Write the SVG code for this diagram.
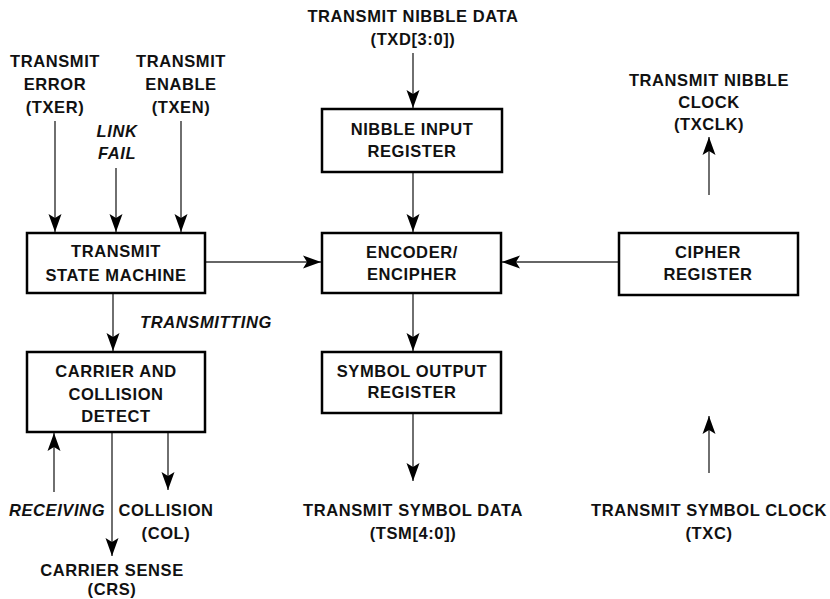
<svg xmlns="http://www.w3.org/2000/svg" width="830" height="599" viewBox="0 0 830 599">
<defs>
<marker id="ah" markerUnits="userSpaceOnUse" viewBox="0 0 18 14" markerWidth="18" markerHeight="14" refX="18" refY="7" orient="auto" overflow="visible">
<path d="M0,0.5 L18,7 L0,13.5 L4,7 Z" fill="#000"/>
</marker>
<style>
.box{fill:#fff;stroke:#000;stroke-width:2.5}
.t{font-family:"Liberation Sans",Arial,sans-serif;font-weight:bold;font-size:16.5px;letter-spacing:0.6px;text-anchor:middle;fill:#111}
.i{font-style:italic}
.c{fill:none;stroke:#333;stroke-width:1.4;marker-end:url(#ah)}
</style>
</defs>
<rect width="830" height="599" fill="#fff"/>

<g id="connectors">
<line class="c" x1="55" y1="121" x2="55" y2="232"/>
<line class="c" x1="116" y1="168" x2="116" y2="232"/>
<line class="c" x1="181" y1="121" x2="181" y2="232"/>
<line class="c" x1="413" y1="53" x2="413" y2="108"/>
<line class="c" x1="413" y1="172" x2="413" y2="232"/>
<line class="c" x1="205" y1="262" x2="321" y2="262"/>
<line class="c" x1="619" y1="262" x2="502" y2="262"/>
<line class="c" x1="709" y1="195" x2="709" y2="137"/>
<line class="c" x1="113" y1="293" x2="113" y2="351"/>
<line class="c" x1="413" y1="293" x2="413" y2="351"/>
<line class="c" x1="413" y1="413" x2="413" y2="481"/>
<line class="c" x1="54" y1="492" x2="54" y2="433"/>
<line class="c" x1="112" y1="432" x2="112" y2="556"/>
<line class="c" x1="168" y1="432" x2="168" y2="490"/>
<line class="c" x1="709" y1="473" x2="709" y2="416"/>
</g>

<g id="n-tsm">
<rect class="box" x="27" y="233" width="178" height="60"/>
<text class="t" x="116" y="257">TRANSMIT</text>
<text class="t" x="116" y="281">STATE MACHINE</text>
</g>
<g id="n-ccd">
<rect class="box" x="27" y="352" width="178" height="80"/>
<text class="t" x="116" y="377">CARRIER AND</text>
<text class="t" x="116" y="400">COLLISION</text>
<text class="t" x="116" y="422">DETECT</text>
</g>
<g id="n-nir">
<rect class="box" x="322" y="109" width="180" height="63"/>
<text class="t" x="412" y="135">NIBBLE INPUT</text>
<text class="t" x="412" y="157">REGISTER</text>
</g>
<g id="n-enc">
<rect class="box" x="322" y="233" width="179" height="60"/>
<text class="t" x="412" y="258">ENCODER/</text>
<text class="t" x="412" y="280">ENCIPHER</text>
</g>
<g id="n-sor">
<rect class="box" x="322" y="352" width="179" height="61"/>
<text class="t" x="412" y="377">SYMBOL OUTPUT</text>
<text class="t" x="412" y="398">REGISTER</text>
</g>
<g id="n-cip">
<rect class="box" x="619" y="233" width="179" height="62"/>
<text class="t" x="708" y="258">CIPHER</text>
<text class="t" x="708" y="280">REGISTER</text>
</g>

<g id="labels">
<text class="t" x="55" y="67">TRANSMIT</text>
<text class="t" x="55" y="90">ERROR</text>
<text class="t" x="55" y="113">(TXER)</text>
<text class="t" x="181" y="67">TRANSMIT</text>
<text class="t" x="181" y="90">ENABLE</text>
<text class="t" x="181" y="113">(TXEN)</text>
<text class="t i" x="117" y="137">LINK</text>
<text class="t i" x="117" y="159">FAIL</text>
<text class="t" x="413" y="22">TRANSMIT NIBBLE DATA</text>
<text class="t" x="413" y="45">(TXD[3:0])</text>
<text class="t" x="709" y="86">TRANSMIT NIBBLE</text>
<text class="t" x="709" y="108">CLOCK</text>
<text class="t" x="709" y="130">(TXCLK)</text>
<text class="t i" x="206" y="328">TRANSMITTING</text>
<text class="t i" x="57" y="516">RECEIVING</text>
<text class="t" x="166" y="516">COLLISION</text>
<text class="t" x="166" y="539">(COL)</text>
<text class="t" x="112" y="576">CARRIER SENSE</text>
<text class="t" x="112" y="595">(CRS)</text>
<text class="t" x="413" y="516">TRANSMIT SYMBOL DATA</text>
<text class="t" x="413" y="539">(TSM[4:0])</text>
<text class="t" x="709" y="516">TRANSMIT SYMBOL CLOCK</text>
<text class="t" x="709" y="539">(TXC)</text>
</g>
</svg>
